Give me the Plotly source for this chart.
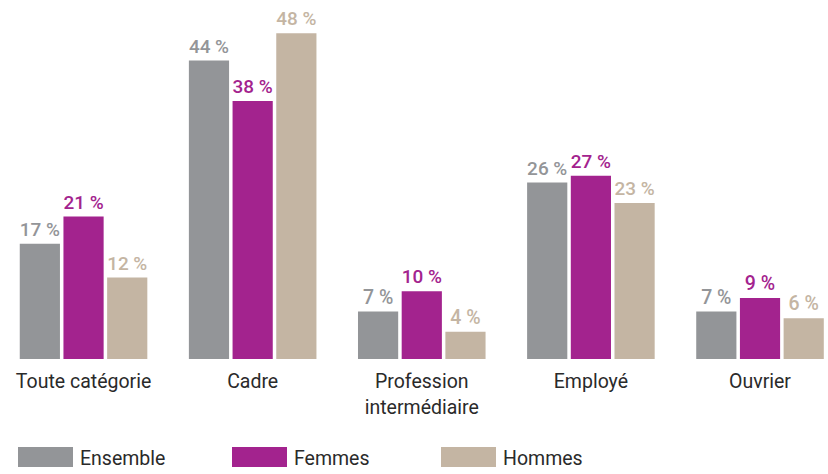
import plotly.graph_objects as go

categories = ["Toute catégorie", "Cadre", "Profession<br>intermédiaire", "Employé", "Ouvrier"]
series_names = ["Ensemble", "Femmes", "Hommes"]
ensemble = [17, 44, 7, 26, 7]
femmes = [21, 38, 10, 27, 9]
hommes = [12, 48, 4, 23, 6]
colors = ["#939598", "#a3238e", "#c4b5a3"]

values = [ensemble, femmes, hommes]
x_idx = list(range(len(categories)))

fig = go.Figure()
for name, vals, col in zip(series_names, values, colors):
    fig.add_trace(go.Bar(
        x=x_idx, y=vals, name=name,
        marker=dict(color=col, line=dict(width=0)),
        text=[f"{v} %" for v in vals],
        textposition="outside",
        textfont=dict(family="Roboto", size=19.5, color=col, weight=500),
        cliponaxis=False,
        showlegend=False,
    ))

# Custom legend: wide swatches with labels underneath the plot
legend_x = [18, 232, 441]
for name, col, lx in zip(series_names, colors, legend_x):
    fig.add_shape(type="rect", xref="paper", yref="paper",
                  x0=lx / 828, x1=(lx + 55) / 828,
                  y0=(474 - 467 - 115) / 359, y1=(474 - 447 - 115) / 359,
                  fillcolor=col, line=dict(width=0))
    fig.add_annotation(xref="paper", yref="paper",
                       x=(lx + 60) / 828, y=(474 - 458 - 115) / 359,
                       text=name, showarrow=False, xanchor="left", yanchor="middle",
                       font=dict(family="Roboto", size=19.5, color="#2a2a2a"))

fig.update_layout(
    width=828, height=474,
    margin=dict(l=0, r=0, t=0, b=115),
    paper_bgcolor="white", plot_bgcolor="white",
    barmode="group", bargap=0.225, bargroupgap=0.08,
    xaxis=dict(
        tickvals=x_idx, ticktext=categories,
        range=[-0.494, 4.402],
        showgrid=False, zeroline=False, showline=False,
        ticks="outside", ticklen=5, tickcolor="rgba(0,0,0,0)",
        tickfont=dict(family="Roboto", size=19.5, color="#2a2a2a"),
    ),
    yaxis=dict(range=[0, 52.9], visible=False),
)

fig.write_html("out.html")
